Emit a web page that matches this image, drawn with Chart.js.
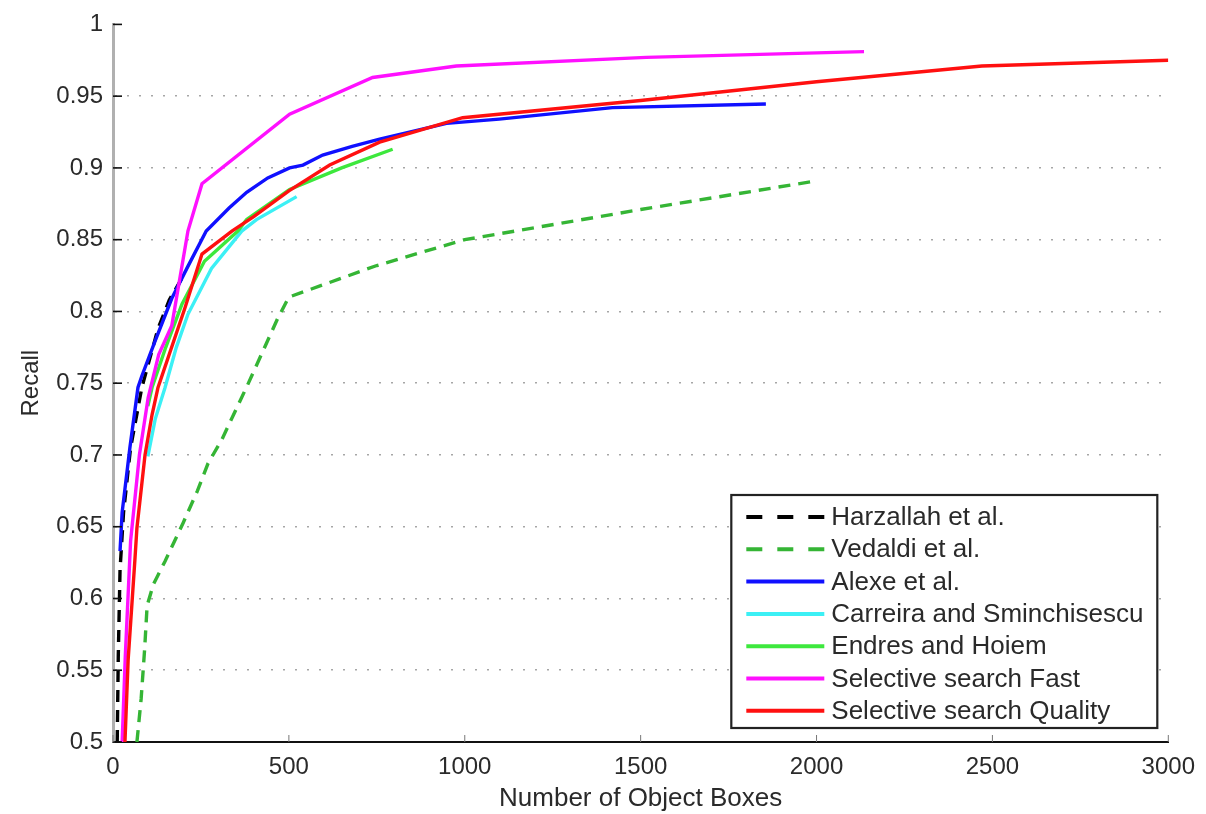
<!DOCTYPE html>
<html>
<head>
<meta charset="utf-8">
<script src="https://cdn.jsdelivr.net/npm/chart.js@4.4.1/dist/chart.umd.min.js"></script>
<style>
	html, body { margin: 0; padding: 0; background: #ffffff; }
	#wrap { width: 1206px; height: 814px; }
</style>
</head>
<body>
<div id="wrap"><canvas id="chart" width="1206" height="814"></canvas></div>
<script>
// recall vs number of object boxes
const xTicks = [0, 500, 1000, 1500, 2000, 2500, 3000]
const yTicks = [0.5, 0.55, 0.6, 0.65, 0.7, 0.75, 0.8, 0.85, 0.9, 0.95, 1]

const seriesNames = [
	'Harzallah et al.',
	'Vedaldi et al.',
	'Alexe et al.',
	'Carreira and Sminchisescu',
	'Endres and Hoiem',
	'Selective search Fast',
	'Selective search Quality'
]

const harzallahX = [12, 15, 20, 30, 50, 82, 128, 160, 205]
const harzallahY = [0.5, 0.56, 0.62, 0.66, 0.705, 0.747, 0.788, 0.808, 0.827]

const vedaldiX = [68, 80, 90, 97, 115, 148, 200, 240, 270, 310, 383, 468, 500, 750, 1000, 1500, 2000]
const vedaldiY = [0.5, 0.53, 0.565, 0.595, 0.61, 0.626, 0.653, 0.675, 0.694, 0.711, 0.749, 0.795, 0.81, 0.832, 0.85, 0.871, 0.891]

const alexeX = [20, 26, 48, 71, 82, 119, 167, 210, 265, 330, 380, 440, 502, 540, 596, 680, 758, 948, 1098, 1420, 1856]
const alexeY = [0.633, 0.66, 0.705, 0.747, 0.755, 0.779, 0.809, 0.83, 0.856, 0.872, 0.883, 0.893, 0.9, 0.902, 0.909, 0.915, 0.92, 0.931, 0.934, 0.942, 0.9445]

const carreiraX = [99, 120, 148, 180, 213, 280, 366, 408, 522]
const carreiraY = [0.699, 0.725, 0.747, 0.775, 0.798, 0.83, 0.856, 0.864, 0.88]

const endresX = [99, 111, 150, 196, 260, 355, 380, 502, 650, 795]
const endresY = [0.734, 0.747, 0.775, 0.805, 0.835, 0.856, 0.864, 0.885, 0.9, 0.913]

const fastX = [26, 35, 50, 75, 100, 130, 167, 213, 253, 502, 738, 976, 1516, 2135]
const fastY = [0.5, 0.56, 0.64, 0.7, 0.74, 0.77, 0.79, 0.856, 0.889, 0.9375, 0.963, 0.971, 0.977, 0.981]

const qualityX = [34, 43, 62, 68, 91, 111, 128, 204, 253, 338, 400, 500, 616, 758, 994, 1500, 2000, 2470, 3000]
const qualityY = [0.5, 0.557, 0.626, 0.649, 0.7, 0.728, 0.747, 0.802, 0.84, 0.856, 0.866, 0.884, 0.902, 0.918, 0.935, 0.947, 0.96, 0.971, 0.975]

const colors = ['#000000', '#35b535', '#1010ff', '#3cf0f5', '#3de83d', '#ff10ff', '#ff1010']
const dashes = [[12, 8], [12, 8], [], [], [], [], []]
const legendDashes = [[16, 15], [16, 15], [], [], [], [], []]

const xs = [harzallahX, vedaldiX, alexeX, carreiraX, endresX, fastX, qualityX]
const ys = [harzallahY, vedaldiY, alexeY, carreiraY, endresY, fastY, qualityY]

const toPoints = (xv, yv) => xv.map((x, i) => ({ x, y: yv[i] }))

const datasets = seriesNames.map((name, i) => ({
	label: name,
	data: toPoints(xs[i], ys[i]),
	borderColor: colors[i],
	backgroundColor: colors[i],
	borderWidth: 3.4,
	borderDash: dashes[i],
	pointRadius: 0,
	tension: 0,
	fill: false,
	// later series on top, like the original plot
	order: seriesNames.length - i
}))

const font = 'Liberation Sans, Arial, Helvetica, sans-serif'

// small inward tick marks on both axes
const innerTicks = {
	id: 'innerTicks',
	afterDatasetsDraw(chart) {
		const { ctx, chartArea, scales } = chart
		ctx.save()
		ctx.strokeStyle = '#111111'
		ctx.lineWidth = 1.6
		yTicks.forEach((v) => {
			const y = scales.y.getPixelForValue(v)
			ctx.beginPath()
			ctx.moveTo(chartArea.left, y)
			ctx.lineTo(chartArea.left + 9, y)
			ctx.stroke()
		})
		ctx.strokeStyle = '#777777'
		ctx.lineWidth = 1
		xTicks.forEach((v) => {
			const x = scales.x.getPixelForValue(v)
			ctx.beginPath()
			ctx.moveTo(x, chartArea.bottom)
			ctx.lineTo(x, chartArea.bottom - 7)
			ctx.stroke()
		})
		ctx.restore()
	}
}

// boxed legend in the lower right corner of the plot
const boxLegend = {
	id: 'boxLegend',
	afterDraw(chart) {
		const { ctx, chartArea } = chart
		const boxRight = chartArea.right - 11
		const boxBottom = chartArea.bottom - 14
		const boxW = 426
		const boxH = 233
		const left = boxRight - boxW
		const top = boxBottom - boxH
		ctx.save()
		ctx.fillStyle = '#ffffff'
		ctx.fillRect(left, top, boxW, boxH)
		ctx.strokeStyle = '#222222'
		ctx.lineWidth = 2.2
		ctx.strokeRect(left, top, boxW, boxH)
		ctx.font = '26px ' + font
		ctx.textBaseline = 'middle'
		chart.data.datasets.forEach((ds, i) => {
			const y = top + 22 + i * 32.3
			ctx.strokeStyle = ds.borderColor
			ctx.lineWidth = 4
			ctx.setLineDash(legendDashes[i])
			ctx.beginPath()
			ctx.moveTo(left + 15, y)
			ctx.lineTo(left + 93, y)
			ctx.stroke()
			ctx.setLineDash([])
			ctx.fillStyle = '#2a2a2a'
			ctx.fillText(ds.label, left + 100, y + 1)
		})
		ctx.restore()
	}
}

new Chart(document.getElementById('chart'), {
	type: 'line',
	data: { datasets },
	options: {
		responsive: false,
		animation: false,
		events: [],
		layout: { padding: { top: 22, right: 36, left: 0, bottom: 0 } },
		plugins: {
			legend: { display: false },
			tooltip: { enabled: false }
		},
		scales: {
			x: {
				type: 'linear',
				min: 0,
				max: 3000,
				afterBuildTicks: (scale) => {
					scale.ticks = xTicks.map((value) => ({ value }))
				},
				afterFit: (scale) => {
					scale.height = 72
				},
				ticks: {
					color: '#2a2a2a',
					font: { family: font, size: 24 },
					padding: 11,
					maxRotation: 0,
					callback: (v) => String(v)
				},
				grid: { display: false, drawTicks: false },
				border: { display: true, color: '#111111', width: 2 },
				title: {
					display: true,
					text: 'Number of Object Boxes',
					color: '#2a2a2a',
					font: { family: font, size: 26 },
					padding: { top: 0, bottom: 0 }
				}
			},
			y: {
				type: 'linear',
				min: 0.5,
				max: 1,
				afterBuildTicks: (scale) => {
					scale.ticks = yTicks.map((value) => ({ value }))
				},
				afterFit: (scale) => {
					scale.width = 113
				},
				ticks: {
					color: '#2a2a2a',
					font: { family: font, size: 24 },
					padding: 10,
					callback: (v) => String(Number(v.toFixed(2)))
				},
				grid: {
					drawTicks: false,
					lineWidth: 1.6,
					color: (ctx) => {
						const v = ctx.tick ? ctx.tick.value : 0
						return v <= 0.5 || v >= 1 ? 'rgba(0,0,0,0)' : 'rgba(0,0,0,0.35)'
					}
				},
				border: { display: true, color: '#b0b0b0', width: 3, dash: [2, 10] },
				title: {
					display: true,
					text: 'Recall',
					color: '#2a2a2a',
					font: { family: font, size: 24 },
					padding: { top: 17, bottom: 0 }
				}
			}
		}
	},
	plugins: [innerTicks, boxLegend]
})
</script>
</body>
</html>
